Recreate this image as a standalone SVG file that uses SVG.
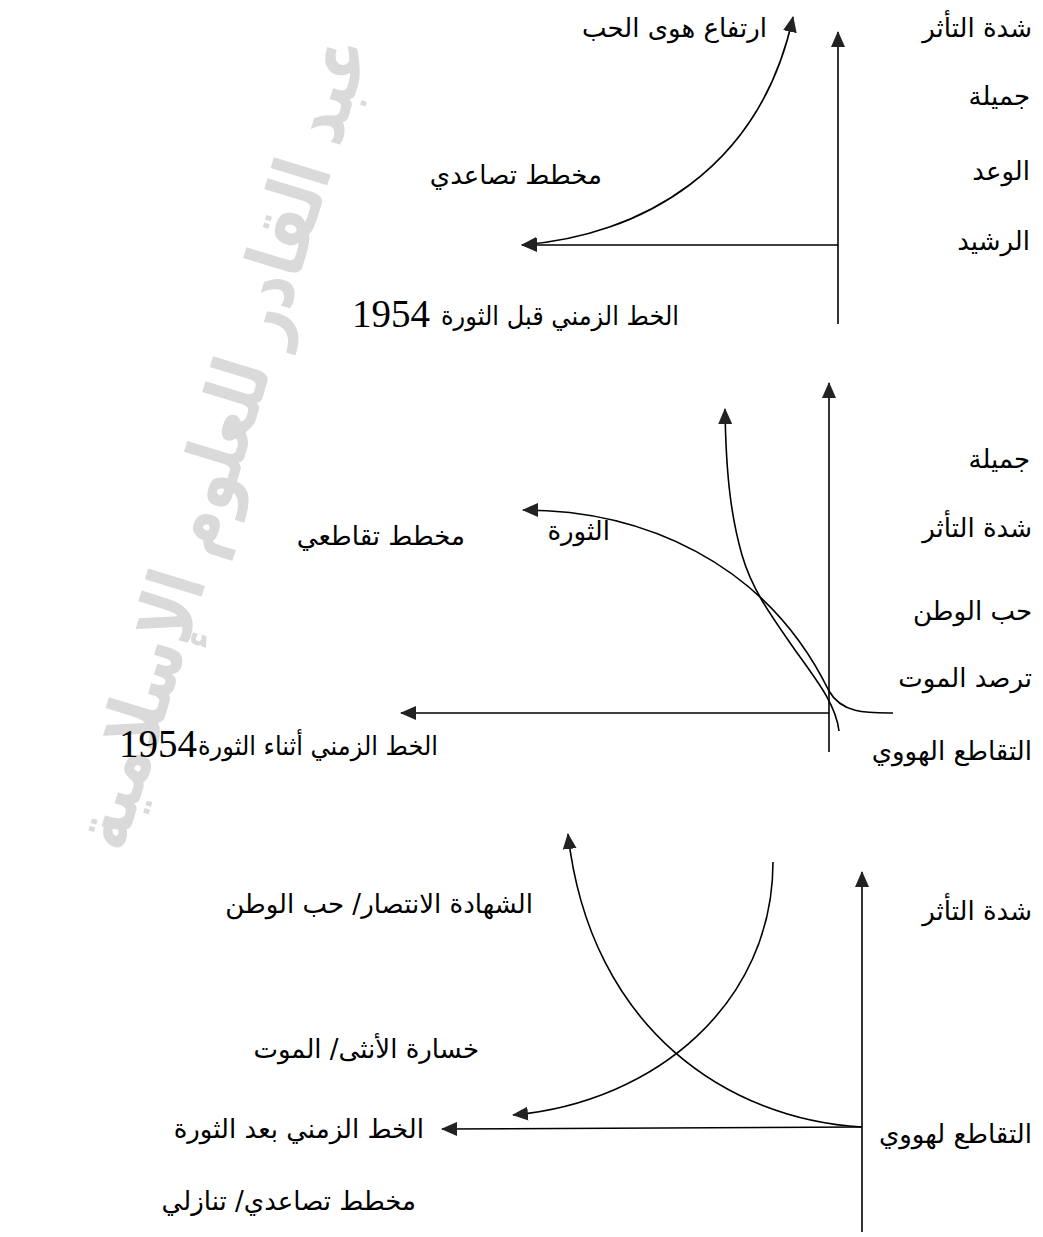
<svg xmlns="http://www.w3.org/2000/svg" width="1043" height="1237" viewBox="0 0 1043 1237">
<style>
.lbl{font-family:'DejaVu Sans',sans-serif;font-size:26px;fill:#000;text-anchor:end}
.num{font-family:'Liberation Serif',serif;font-size:39px;fill:#000;text-anchor:end}
.ln{stroke:#000;stroke-width:1.6;fill:none}
.wm{font-family:'DejaVu Sans',sans-serif;font-weight:bold;font-size:78px;fill:#dadada;text-anchor:end}
</style>
<defs>
<marker id="ah" viewBox="0 0 16 14" refX="15" refY="7" markerWidth="16" markerHeight="14" markerUnits="userSpaceOnUse" orient="auto-start-reverse">
<path d="M0,0 L16,7 L0,14 z" fill="#222"/>
</marker>
</defs>
<rect width="1043" height="1237" fill="#fff"/>
<g id="watermark">
<text class="wm" transform="translate(370,46) rotate(-73)" textLength="845" lengthAdjust="spacingAndGlyphs">عبد القادر للعلوم الإسلامية</text>
</g>
<g id="connectors">
<!-- section 1 -->
<path class="ln" d="M838,324 L838,32" marker-end="url(#ah)"/>
<path class="ln" d="M838,245 L522,245" marker-end="url(#ah)"/>
<path class="ln" d="M522,245 C640,236 760,170 793,17" marker-start="url(#ah)" marker-end="url(#ah)"/>
<!-- section 2 -->
<path class="ln" d="M829,752 L829,383" marker-end="url(#ah)"/>
<path class="ln" d="M829,713 L401,713" marker-end="url(#ah)"/>
<path class="ln" d="M839,731 C836,705 818,682 795,650 C772,617 752,590 742,555 C732,520 726,480 725,409" marker-end="url(#ah)"/>
<path class="ln" d="M893,713 C868,713 842,714 829,691 C765,560 640,510 523,510" marker-end="url(#ah)"/>
<!-- section 3 -->
<path class="ln" d="M862,1232 L862,872" marker-end="url(#ah)"/>
<path class="ln" d="M862,1127 L442,1129" marker-end="url(#ah)"/>
<path class="ln" d="M862,1127 C730,1120 590,1030 568,834" marker-end="url(#ah)"/>
<path class="ln" d="M773,862 C773,1002 657,1102 513,1115" marker-end="url(#ah)"/>
</g>
<g id="section1">
<g id="s1-y"><text class="lbl" x="1032" y="37">شدة التأثر</text></g>
<g id="s1-jamila"><text class="lbl" x="1030" y="105">جميلة</text></g>
<g id="s1-waad"><text class="lbl" x="1030" y="180">الوعد</text></g>
<g id="s1-rashid"><text class="lbl" x="1030" y="250">الرشيد</text></g>
<g id="s1-rise"><text class="lbl" x="767" y="37">ارتفاع هوى الحب</text></g>
<g id="s1-chart"><text class="lbl" x="602" y="184">مخطط تصاعدي</text></g>
<g id="s1-x"><text class="lbl" x="679" y="325" textLength="238" lengthAdjust="spacingAndGlyphs">الخط  الزمني قبل الثورة</text><text class="num" x="430" y="327">1954</text></g>
</g>
<g id="section2">
<g id="s2-jamila"><text class="lbl" x="1030" y="468">جميلة</text></g>
<g id="s2-y"><text class="lbl" x="1032" y="537">شدة التأثر</text></g>
<g id="s2-watan"><text class="lbl" x="1032" y="620">حب الوطن</text></g>
<g id="s2-death"><text class="lbl" x="1032" y="687">ترصد الموت</text></g>
<g id="s2-cross"><text class="lbl" x="1032" y="760">التقاطع الهووي</text></g>
<g id="s2-rev"><text class="lbl" x="610" y="540">الثورة</text></g>
<g id="s2-chart"><text class="lbl" x="465" y="545">مخطط تقاطعي</text></g>
<g id="s2-x"><text class="lbl" x="438" y="755" textLength="240" lengthAdjust="spacingAndGlyphs">الخط الزمني أثناء الثورة</text><text class="num" x="197" y="757">1954</text></g>
</g>
<g id="section3">
<g id="s3-y"><text class="lbl" x="1032" y="920">شدة التأثر</text></g>
<g id="s3-cross"><text class="lbl" x="1032" y="1143">التقاطع لهووي</text></g>
<g id="s3-up"><text class="lbl" x="533" y="913">الشهادة الانتصار/ حب الوطن</text></g>
<g id="s3-down"><text class="lbl" x="479" y="1058">خسارة الأنثى/ الموت</text></g>
<g id="s3-x"><text class="lbl" x="424" y="1138">الخط الزمني  بعد الثورة</text></g>
<g id="s3-chart"><text class="lbl" x="416" y="1210">مخطط تصاعدي/ تنازلي</text></g>
</g>
</svg>
